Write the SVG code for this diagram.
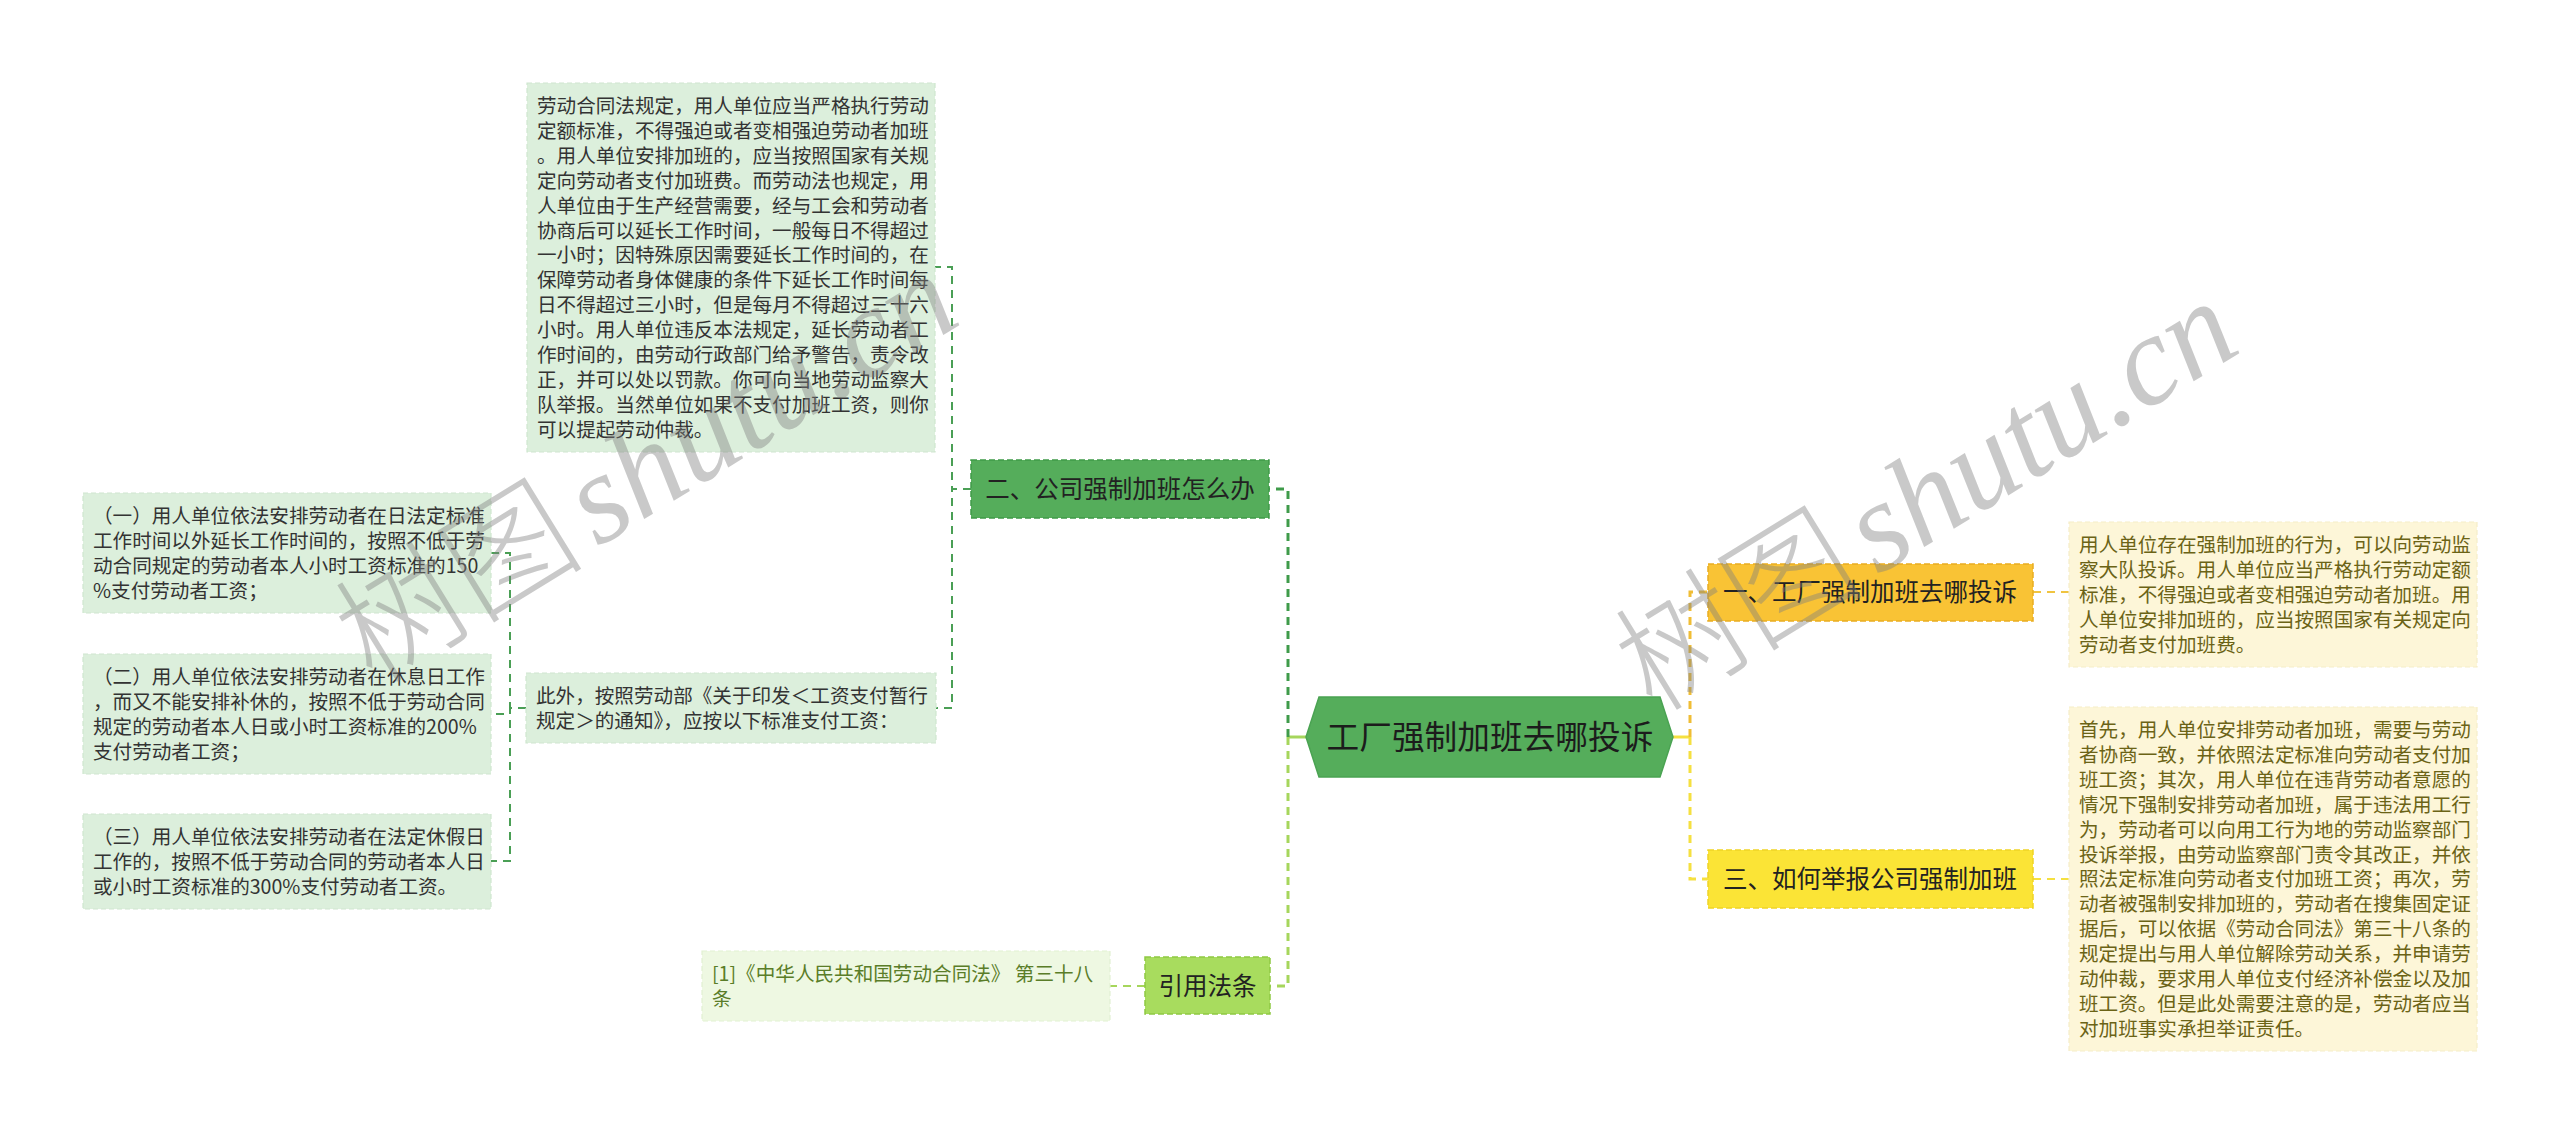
<svg xmlns="http://www.w3.org/2000/svg" width="2560" height="1135" viewBox="0 0 2560 1135">
<style>
  text { font-family: "Noto Sans CJK SC", "Noto Sans", sans-serif; }
  .leaf { font-size: 19.6px; }
  .gtxt { fill: #333333; }
  .ytxt { fill: #6b6316; }
  .ctxt { fill: #5a7d28; }
  .gleaf { fill: #dcefdc; stroke: #cfe6cf; stroke-width: 1.2; stroke-dasharray: 5 3; }
  .yleaf { fill: #fdf6d8; stroke: #f5edc8; stroke-width: 1.2; stroke-dasharray: 5 3; }
  .cleaf { fill: #eef8e2; stroke: #e2f1d2; stroke-width: 1.2; stroke-dasharray: 5 3; }
  .topic { font-size: 24.5px; fill: #222222; text-anchor: middle; }
  .conn { fill: none; stroke-width: 2; stroke-dasharray: 8 6; }
  .main { stroke-width: 3; }
  .wm { fill: #808080; opacity: 0.42; }
  .wmcjk { font-family: "Noto Sans CJK SC", sans-serif; font-size: 125px; font-weight: 300; }
  .wmlat { font-family: "Liberation Serif", serif; font-style: italic; font-size: 128px; }
</style>

<g id="connectors">
  <path d="M1306,737 H1288" fill="none" stroke="#a6d65c" stroke-width="3"/>
  <path d="M1673,737 H1690" fill="none" stroke="#f5e040" stroke-width="3"/>
  <path class="conn main" d="M1288,737 V489 H1269" stroke="#3f9b4a"/>
  <path class="conn main" d="M1288,737 V986 H1270" stroke="#a6d65c"/>
  <path class="conn main" d="M1690,737 V592 H1708" stroke="#f0bd35"/>
  <path class="conn main" d="M1690,737 V879 H1708" stroke="#f5e040"/>
  <path class="conn" d="M971,489 H952 V267 H935" stroke="#4a9f55"/>
  <path class="conn" d="M971,489 H952 V708 H936" stroke="#4a9f55"/>
  <path class="conn" d="M526,708 H510 V553 H491" stroke="#4a9f55"/>
  <path class="conn" d="M526,708 H510 V714 H491" stroke="#4a9f55"/>
  <path class="conn" d="M526,708 H510 V861 H491" stroke="#4a9f55"/>
  <path class="conn" d="M2033,592 H2069" stroke="#f0c440"/>
  <path class="conn" d="M2033,879 H2069" stroke="#f5e040"/>
  <path class="conn" d="M1145,986 H1110" stroke="#a6d65c"/>
</g>

<g id="center">
  <polygon points="1306,737 1319,697 1660,697 1673,737 1660,777 1319,777" fill="#55ad5b" stroke="#4aa352" stroke-width="1.5"/>
  <text x="1490" y="749" font-size="32.7" fill="#1c1c1c" text-anchor="middle">工厂强制加班去哪投诉</text>
</g>

<g id="node-er">
  <rect x="971" y="460" width="298" height="58" fill="#55ad5b" stroke="#3f9a48" stroke-width="1.5" stroke-dasharray="6 3"/>
  <text class="topic" x="1120" y="498">二、公司强制加班怎么办</text>
</g>

<g id="node-yi">
  <rect x="1708" y="564" width="325" height="57" fill="#f9c335" stroke="#e9ad22" stroke-width="1.5" stroke-dasharray="6 3"/>
  <text class="topic" x="1870" y="601">一、工厂强制加班去哪投诉</text>
</g>

<g id="node-san">
  <rect x="1708" y="850" width="325" height="58" fill="#fbe436" stroke="#efd326" stroke-width="1.5" stroke-dasharray="6 3"/>
  <text class="topic" x="1870" y="888">三、如何举报公司强制加班</text>
</g>

<g id="node-yinyong">
  <rect x="1145" y="957" width="125" height="57" fill="#a8dc5e" stroke="#8fc943" stroke-width="1.5" stroke-dasharray="6 3"/>
  <text class="topic" x="1207.5" y="994.5">引用法条</text>
</g>

<g id="leaf-er-1">
  <rect class="gleaf" x="527" y="83" width="408" height="369"/>
  <text class="leaf gtxt">
    <tspan x="537" y="113">劳动合同法规定，用人单位应当严格执行劳动</tspan>
    <tspan x="537" y="137.9">定额标准，不得强迫或者变相强迫劳动者加班</tspan>
    <tspan x="537" y="162.8">。用人单位安排加班的，应当按照国家有关规</tspan>
    <tspan x="537" y="187.7">定向劳动者支付加班费。而劳动法也规定，用</tspan>
    <tspan x="537" y="212.6">人单位由于生产经营需要，经与工会和劳动者</tspan>
    <tspan x="537" y="237.5">协商后可以延长工作时间，一般每日不得超过</tspan>
    <tspan x="537" y="262.4">一小时；因特殊原因需要延长工作时间的，在</tspan>
    <tspan x="537" y="287.3">保障劳动者身体健康的条件下延长工作时间每</tspan>
    <tspan x="537" y="312.2">日不得超过三小时，但是每月不得超过三十六</tspan>
    <tspan x="537" y="337.1">小时。用人单位违反本法规定，延长劳动者工</tspan>
    <tspan x="537" y="362">作时间的，由劳动行政部门给予警告，责令改</tspan>
    <tspan x="537" y="386.9">正，并可以处以罚款。你可向当地劳动监察大</tspan>
    <tspan x="537" y="411.8">队举报。当然单位如果不支付加班工资，则你</tspan>
    <tspan x="537" y="436.7">可以提起劳动仲裁。</tspan>
  </text>
</g>

<g id="leaf-er-2">
  <rect class="gleaf" x="526" y="673" width="410" height="70"/>
  <text class="leaf gtxt">
    <tspan x="536" y="703">此外，按照劳动部《关于印发＜工资支付暂行</tspan>
    <tspan x="536" y="727.9">规定＞的通知》，应按以下标准支付工资：</tspan>
  </text>
</g>

<g id="leaf-std-1">
  <rect class="gleaf" x="83" y="493" width="408" height="120"/>
  <text class="leaf gtxt">
    <tspan x="93" y="523">（一）用人单位依法安排劳动者在日法定标准</tspan>
    <tspan x="93" y="547.9">工作时间以外延长工作时间的，按照不低于劳</tspan>
    <tspan x="93" y="572.8">动合同规定的劳动者本人小时工资标准的150</tspan>
    <tspan x="93" y="597.7">%支付劳动者工资；</tspan>
  </text>
</g>

<g id="leaf-std-2">
  <rect class="gleaf" x="83" y="654" width="408" height="120"/>
  <text class="leaf gtxt">
    <tspan x="93" y="684">（二）用人单位依法安排劳动者在休息日工作</tspan>
    <tspan x="93" y="708.9">，而又不能安排补休的，按照不低于劳动合同</tspan>
    <tspan x="93" y="733.8">规定的劳动者本人日或小时工资标准的200%</tspan>
    <tspan x="93" y="758.7">支付劳动者工资；</tspan>
  </text>
</g>

<g id="leaf-std-3">
  <rect class="gleaf" x="83" y="814" width="408" height="95"/>
  <text class="leaf gtxt">
    <tspan x="93" y="844">（三）用人单位依法安排劳动者在法定休假日</tspan>
    <tspan x="93" y="868.9">工作的，按照不低于劳动合同的劳动者本人日</tspan>
    <tspan x="93" y="893.8">或小时工资标准的300%支付劳动者工资。</tspan>
  </text>
</g>

<g id="leaf-yi">
  <rect class="yleaf" x="2069" y="522" width="408" height="145"/>
  <text class="leaf ytxt">
    <tspan x="2079" y="552">用人单位存在强制加班的行为，可以向劳动监</tspan>
    <tspan x="2079" y="576.9">察大队投诉。用人单位应当严格执行劳动定额</tspan>
    <tspan x="2079" y="601.8">标准，不得强迫或者变相强迫劳动者加班。用</tspan>
    <tspan x="2079" y="626.7">人单位安排加班的，应当按照国家有关规定向</tspan>
    <tspan x="2079" y="651.6">劳动者支付加班费。</tspan>
  </text>
</g>

<g id="leaf-san">
  <rect class="yleaf" x="2069" y="707" width="408" height="344"/>
  <text class="leaf ytxt">
    <tspan x="2079" y="737">首先，用人单位安排劳动者加班，需要与劳动</tspan>
    <tspan x="2079" y="761.9">者协商一致，并依照法定标准向劳动者支付加</tspan>
    <tspan x="2079" y="786.8">班工资；其次，用人单位在违背劳动者意愿的</tspan>
    <tspan x="2079" y="811.7">情况下强制安排劳动者加班，属于违法用工行</tspan>
    <tspan x="2079" y="836.6">为，劳动者可以向用工行为地的劳动监察部门</tspan>
    <tspan x="2079" y="861.5">投诉举报，由劳动监察部门责令其改正，并依</tspan>
    <tspan x="2079" y="886.4">照法定标准向劳动者支付加班工资；再次，劳</tspan>
    <tspan x="2079" y="911.3">动者被强制安排加班的，劳动者在搜集固定证</tspan>
    <tspan x="2079" y="936.2">据后，可以依据《劳动合同法》第三十八条的</tspan>
    <tspan x="2079" y="961.1">规定提出与用人单位解除劳动关系，并申请劳</tspan>
    <tspan x="2079" y="986">动仲裁，要求用人单位支付经济补偿金以及加</tspan>
    <tspan x="2079" y="1010.9">班工资。但是此处需要注意的是，劳动者应当</tspan>
    <tspan x="2079" y="1035.8">对加班事实承担举证责任。</tspan>
  </text>
</g>

<g id="leaf-cite">
  <rect class="cleaf" x="702" y="951" width="408" height="70"/>
  <text class="leaf ctxt">
    <tspan x="712" y="981">[1]《中华人民共和国劳动合同法》 第三十八</tspan>
    <tspan x="712" y="1005.9">条</tspan>
  </text>
</g>

<g id="watermarks">
  <text class="wm" transform="translate(373,686) rotate(-31.6)"><tspan class="wmcjk">树图</tspan><tspan class="wmlat" dx="14">shutu.cn</tspan></text>
  <text class="wm" transform="translate(1653,714) rotate(-31.6)"><tspan class="wmcjk">树图</tspan><tspan class="wmlat" dx="14">shutu.cn</tspan></text>
</g>
</svg>
